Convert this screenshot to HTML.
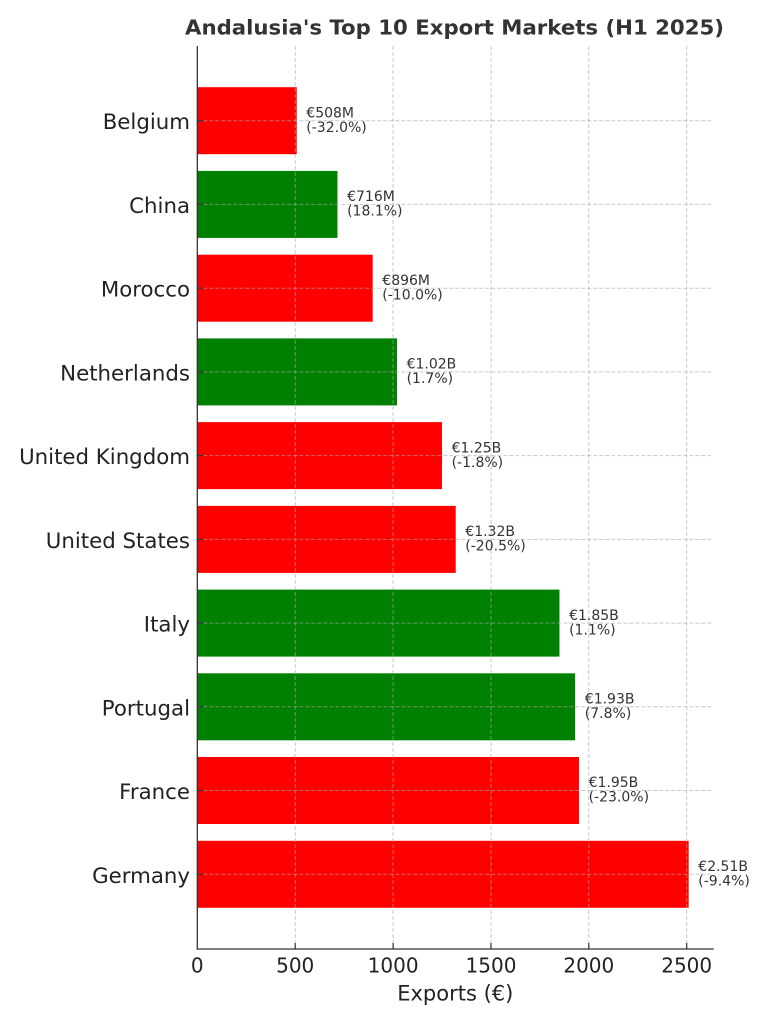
<!DOCTYPE html>
<html>
<head>
<meta charset="utf-8">
<style>
  html, body { margin: 0; padding: 0; background: #ffffff; }
  svg { display: block; }
  text { font-family: "DejaVu Sans", "Liberation Sans", sans-serif; }
</style>
</head>
<body>
<svg width="768" height="1024" viewBox="0 0 768 1024" xmlns="http://www.w3.org/2000/svg">
  <rect x="0" y="0" width="768" height="1024" fill="#ffffff"/>

  <!-- Bars -->
  <rect x="197.3" y="87.2"  width="99.45"  height="67" fill="#ff0000"/>
  <rect x="197.3" y="170.9" width="140.17" height="67" fill="#008000"/>
  <rect x="197.3" y="254.7" width="175.41" height="67" fill="#ff0000"/>
  <rect x="197.3" y="338.4" width="199.69" height="67" fill="#008000"/>
  <rect x="197.3" y="422.1" width="244.71" height="67" fill="#ff0000"/>
  <rect x="197.3" y="505.9" width="258.42" height="67" fill="#ff0000"/>
  <rect x="197.3" y="589.6" width="362.17" height="67" fill="#008000"/>
  <rect x="197.3" y="673.3" width="377.84" height="67" fill="#008000"/>
  <rect x="197.3" y="757.0" width="381.75" height="67" fill="#ff0000"/>
  <rect x="197.3" y="840.8" width="491.38" height="67" fill="#ff0000"/>

  <!-- Grid (drawn above bars) -->
  <g stroke="#a8a8a8" stroke-opacity="0.62" stroke-width="1" stroke-dasharray="4,2" fill="none">
    <line x1="295.2" y1="46" x2="295.2" y2="949"/>
    <line x1="393.1" y1="46" x2="393.1" y2="949"/>
    <line x1="491.0" y1="46" x2="491.0" y2="949"/>
    <line x1="588.8" y1="46" x2="588.8" y2="949"/>
    <line x1="686.7" y1="46" x2="686.7" y2="949"/>
    <line x1="197.3" y1="120.7" x2="713.3" y2="120.7"/>
    <line x1="197.3" y1="204.4" x2="713.3" y2="204.4"/>
    <line x1="197.3" y1="288.2" x2="713.3" y2="288.2"/>
    <line x1="197.3" y1="371.9" x2="713.3" y2="371.9"/>
    <line x1="197.3" y1="455.6" x2="713.3" y2="455.6"/>
    <line x1="197.3" y1="539.4" x2="713.3" y2="539.4"/>
    <line x1="197.3" y1="623.1" x2="713.3" y2="623.1"/>
    <line x1="197.3" y1="706.8" x2="713.3" y2="706.8"/>
    <line x1="197.3" y1="790.5" x2="713.3" y2="790.5"/>
    <line x1="197.3" y1="874.3" x2="713.3" y2="874.3"/>
  </g>

  <!-- Spines -->
  <g stroke="#333333" stroke-width="1.3" fill="none">
    <line x1="197.3" y1="46" x2="197.3" y2="949.6"/>
    <line x1="196.7" y1="949" x2="713.8" y2="949"/>
  </g>

  <!-- Ticks (inward) -->
  <g stroke="#333333" stroke-width="1.2">
    <line x1="295.2" y1="949" x2="295.2" y2="943"/>
    <line x1="393.1" y1="949" x2="393.1" y2="943"/>
    <line x1="491.0" y1="949" x2="491.0" y2="943"/>
    <line x1="588.8" y1="949" x2="588.8" y2="943"/>
    <line x1="686.7" y1="949" x2="686.7" y2="943"/>
    <line x1="197.3" y1="120.7" x2="203.3" y2="120.7"/>
    <line x1="197.3" y1="204.4" x2="203.3" y2="204.4"/>
    <line x1="197.3" y1="288.2" x2="203.3" y2="288.2"/>
    <line x1="197.3" y1="371.9" x2="203.3" y2="371.9"/>
    <line x1="197.3" y1="455.6" x2="203.3" y2="455.6"/>
    <line x1="197.3" y1="539.4" x2="203.3" y2="539.4"/>
    <line x1="197.3" y1="623.1" x2="203.3" y2="623.1"/>
    <line x1="197.3" y1="706.8" x2="203.3" y2="706.8"/>
    <line x1="197.3" y1="790.5" x2="203.3" y2="790.5"/>
    <line x1="197.3" y1="874.3" x2="203.3" y2="874.3"/>
  </g>

  <!-- Title -->
  <text x="454.5" y="34.6" font-size="20" font-weight="bold" fill="#333333" text-anchor="middle" textLength="539" lengthAdjust="spacingAndGlyphs">Andalusia's Top 10 Export Markets (H1 2025)</text>

  <!-- Y tick labels -->
  <g font-size="21.3" fill="#222222" text-anchor="end">
    <text x="190" y="129.2">Belgium</text>
    <text x="190" y="212.9">China</text>
    <text x="190" y="296.7">Morocco</text>
    <text x="190" y="380.4">Netherlands</text>
    <text x="190" y="464.1">United Kingdom</text>
    <text x="190" y="547.9">United States</text>
    <text x="190" y="631.6">Italy</text>
    <text x="190" y="715.3">Portugal</text>
    <text x="190" y="799.0">France</text>
    <text x="190" y="882.8">Germany</text>
  </g>

  <!-- X tick labels -->
  <g font-size="20" fill="#222222" text-anchor="middle">
    <text x="197.3" y="972.7">0</text>
    <text x="295.2" y="972.7">500</text>
    <text x="393.1" y="972.7">1000</text>
    <text x="491.0" y="972.7">1500</text>
    <text x="588.8" y="972.7">2000</text>
    <text x="686.7" y="972.7">2500</text>
  </g>

  <!-- X axis label -->
  <text x="455.3" y="1000.7" font-size="21" fill="#222222" text-anchor="middle">Exports (€)</text>

  <!-- Annotations -->
  <g font-size="14" fill="#333333">
    <text x="306.3" y="117.4">€508M</text>
    <text x="306.3" y="131.9">(-32.0%)</text>

    <text x="347.1" y="201.1">€716M</text>
    <text x="347.1" y="215.6">(18.1%)</text>

    <text x="382.3" y="284.9">€896M</text>
    <text x="382.3" y="299.4">(-10.0%)</text>

    <text x="406.6" y="368.6">€1.02B</text>
    <text x="406.6" y="383.1">(1.7%)</text>

    <text x="451.6" y="452.3">€1.25B</text>
    <text x="451.6" y="466.8">(-1.8%)</text>

    <text x="465.3" y="536.1">€1.32B</text>
    <text x="465.3" y="550.6">(-20.5%)</text>

    <text x="569.1" y="619.8">€1.85B</text>
    <text x="569.1" y="634.3">(1.1%)</text>

    <text x="584.8" y="703.5">€1.93B</text>
    <text x="584.8" y="718.0">(7.8%)</text>

    <text x="588.6" y="787.2">€1.95B</text>
    <text x="588.6" y="801.7">(-23.0%)</text>

    <text x="698.3" y="871.0">€2.51B</text>
    <text x="698.3" y="885.5">(-9.4%)</text>
  </g>
</svg>
</body>
</html>
